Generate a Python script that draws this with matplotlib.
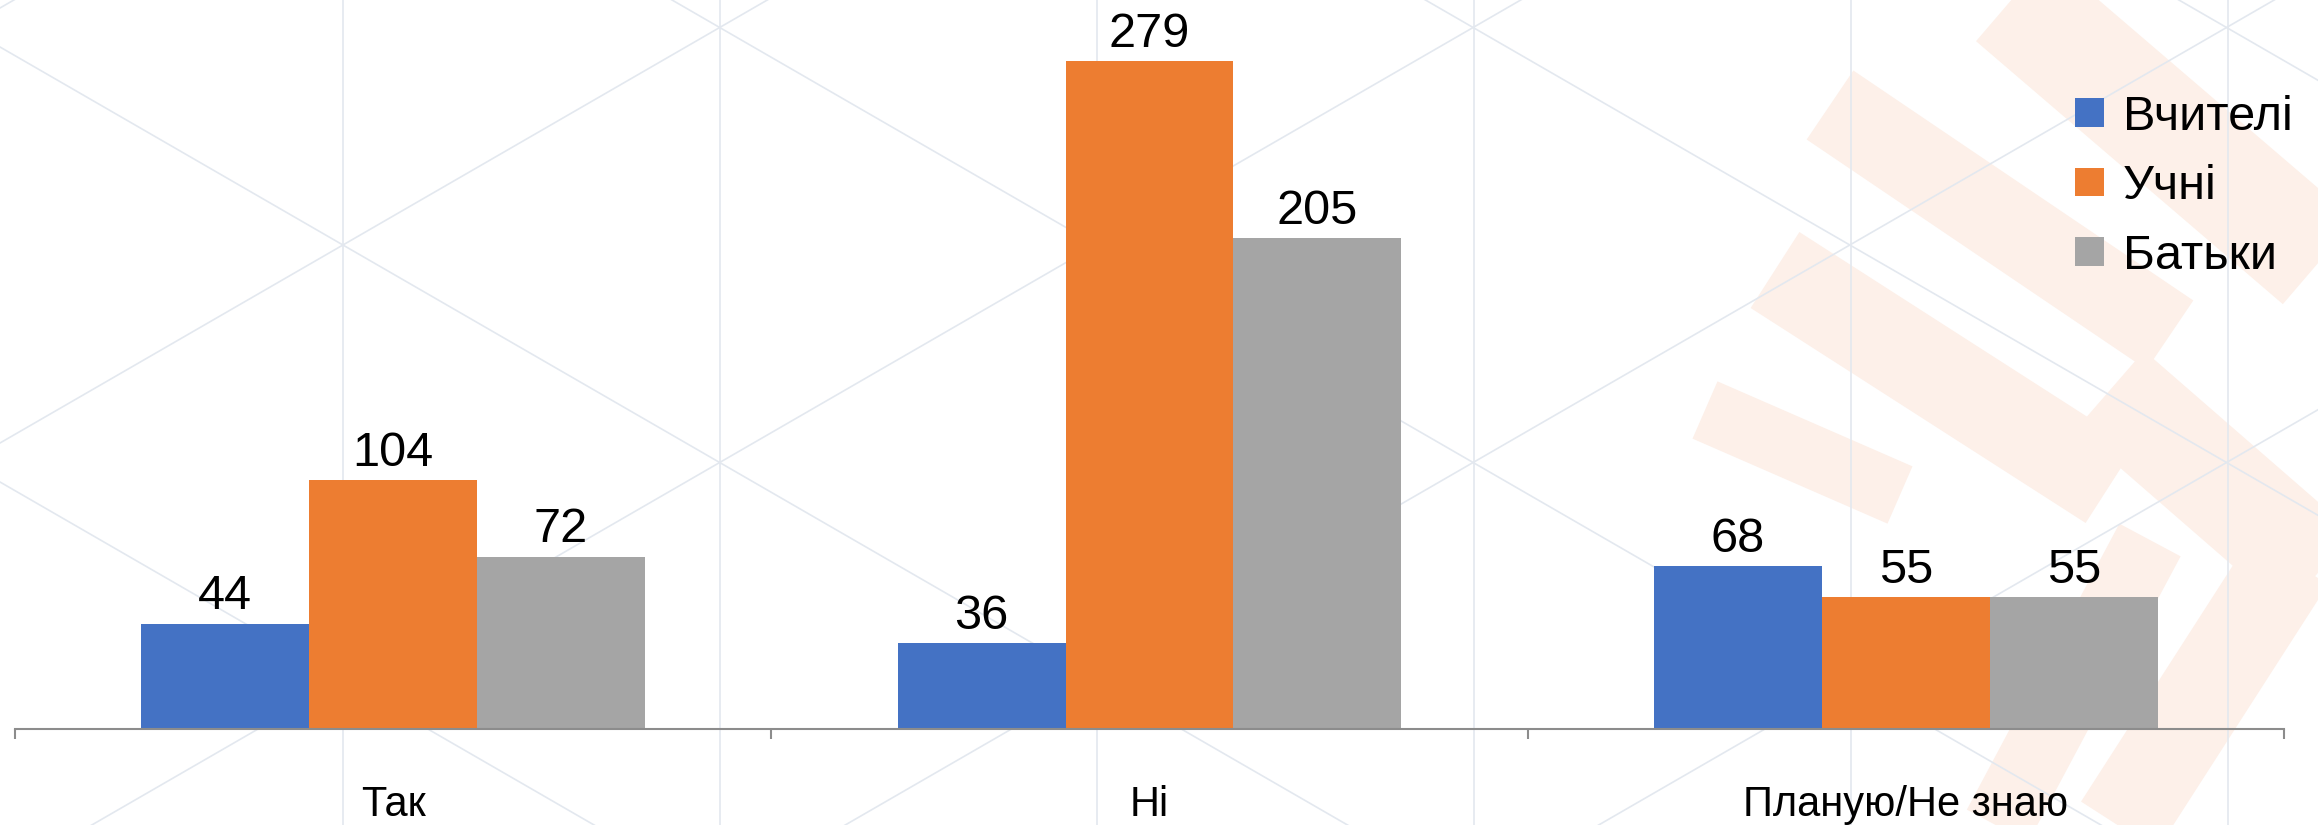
import matplotlib

matplotlib.use("Agg")
import matplotlib.pyplot as plt
import numpy as np

# survey answers by group
categories = ["Так", "Ні", "Планую/Не знаю"]
series_names = ["Вчителі", "Учні", "Батьки"]
teachers = [44, 36, 68]
students = [104, 279, 55]
parents = [72, 205, 55]
colors = ["#4472C4", "#ED7D31", "#A5A5A5"]

W, H = 2318, 825
plt.rcParams["font.family"] = ["Liberation Sans", "DejaVu Sans"]

fig = plt.figure(figsize=(W / 100, H / 100), dpi=100)

# --- decorative background: faint lattice + peach chevrons (pixel coords)
bg = fig.add_axes([0, 0, 1, 1], zorder=0)
bg.set_xlim(0, W)
bg.set_ylim(H, 0)
bg.axis("off")
lat = "#e3e8ef"
s = np.tan(np.radians(30))
for k in range(-1, 7):
    bg.axvline(343 + 377 * k, color=lat, lw=1.2)
xs = np.array([0, W])
for m in range(-3, 10):
    bg.plot(xs, 443 + 435 * m - s * xs, color=lat, lw=1.2)
    bg.plot(xs, 47 + 435 * (m - 5) + s * xs, color=lat, lw=1.2)

peach = "#fdf0e9"
chevrons = [
    ((1990, -20), (2340, 280), 80),
    ((1830, 105), (2170, 335), 60),
    ((1775, 270), (2110, 485), 65),
    ((1705, 410), (1900, 495), 45),
    ((2110, 390), (2340, 590), 75),
    ((2290, 560), (2110, 840), 65),
    ((2150, 540), (1990, 840), 50),
]
for (x0, y0), (x1, y1), lw in chevrons:
    bg.plot([x0, x1], [y0, y1], color=peach, lw=lw, solid_capstyle="butt", zorder=0)

# --- main chart
ax = fig.add_axes([15 / W, 96 / H, 2269 / W, 0.871], zorder=1)
ax.patch.set_alpha(0)
x = np.arange(len(categories))
w = 0.222
for i, (vals, name) in enumerate(zip([teachers, students, parents], series_names)):
    bars = ax.bar(x + (i - 1) * w, vals, w, color=colors[i], label=name, zorder=2)
    ax.bar_label(bars, padding=3, fontsize=35)

ax.set_xlim(-0.5, 2.5)
ax.set_ylim(0, 300)
ax.set_yticks([])
ax.set_xticks(x)
ax.set_xticklabels(categories, fontsize=30)
ax.tick_params(axis="x", which="major", length=0, pad=40)
ax.set_xticks([-0.5, 0.5, 1.5, 2.5], minor=True)
ax.tick_params(axis="x", which="minor", length=7, width=1.5, color="#8c8c8c")
for sp in ["top", "right", "left"]:
    ax.spines[sp].set_visible(False)
ax.spines["bottom"].set_color("#8c8c8c")
ax.spines["bottom"].set_linewidth(1.5)

ax.legend(
    loc="upper left",
    bbox_to_anchor=(2075 / W, 1 - 95 / H),
    bbox_transform=fig.transFigure,
    frameon=False,
    fontsize=35,
    borderpad=0,
    borderaxespad=0,
    handlelength=0.6,
    handleheight=0.53,
    handletextpad=0.39,
    labelspacing=0.5,
)

fig.savefig("out.png", dpi=100)
